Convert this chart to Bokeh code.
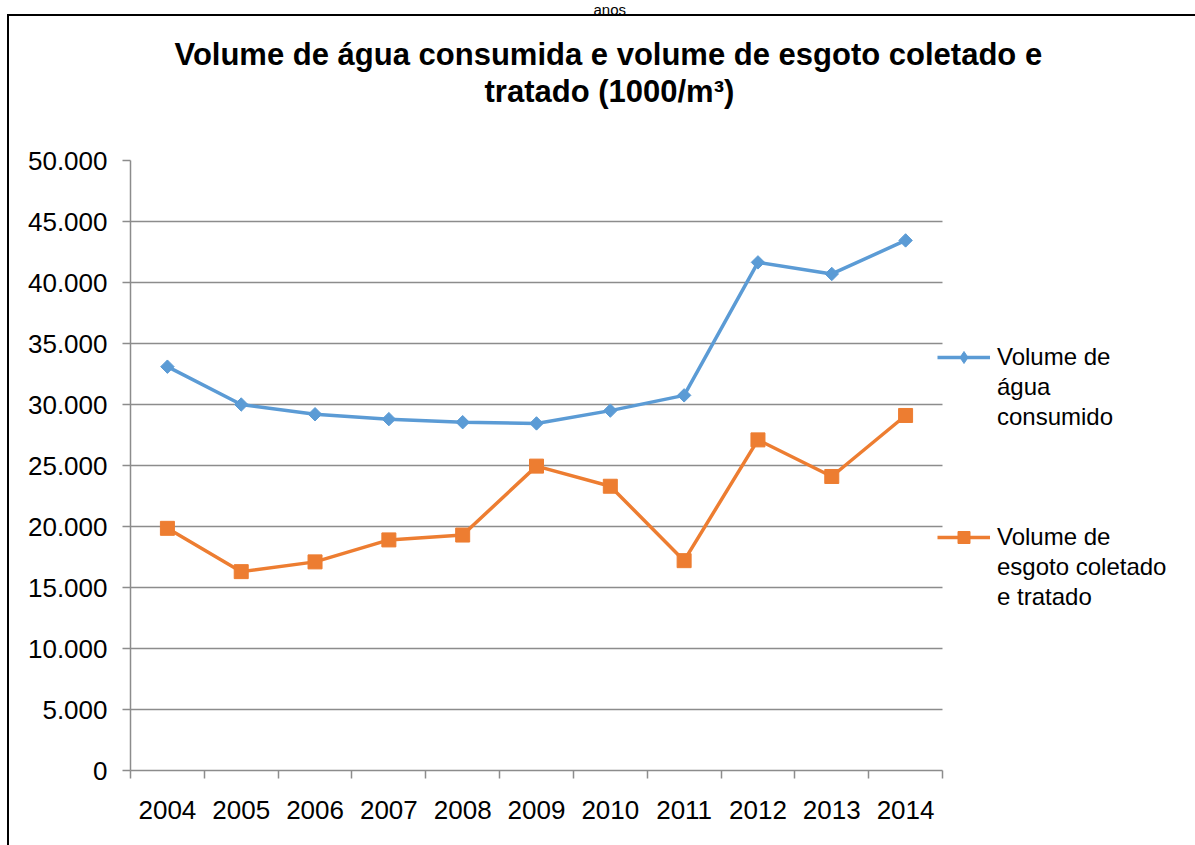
import math
from bokeh.plotting import figure
from bokeh.models import (FixedTicker, Legend, LegendItem, Range1d, Title, BoxAnnotation)
from bokeh.embed import file_html
from bokeh.resources import INLINE

# ---- data ----
years = ["2004", "2005", "2006", "2007", "2008", "2009", "2010", "2011", "2012", "2013", "2014"]
agua = [33100, 30000, 29200, 28800, 28550, 28450, 29500, 30750, 41650, 40700, 43450]
esgoto = [19850, 16300, 17100, 18900, 19300, 24950, 23300, 17200, 27100, 24100, 29100]
y_ticks = [0, 5000, 10000, 15000, 20000, 25000, 30000, 35000, 40000, 45000, 50000]
y_tick_labels = ["0", "5.000", "10.000", "15.000", "20.000", "25.000", "30.000",
                 "35.000", "40.000", "45.000", "50.000"]
title_lines = ["Volume de água consumida e volume de esgoto coletado e", "tratado (1000/m³)"]
legend_agua = ["Volume de", "água", "consumido"]
legend_esgoto = ["Volume de", "esgoto coletado", "e tratado"]
top_text = "anos"

FONT = "Liberation Sans"
BLUE = "#5B9BD5"
ORANGE = "#ED7D31"
GRID = "#8C8C8C"

W, H = 1195, 845
LEFT, TOP, BOTTOM = 130, 159, 75
PLOT_W = 812                      # width of the gridded plot area
n = len(years)
x_end = n * (W - LEFT) / PLOT_W   # frame spans to the right edge (legend lives there)

xs = [i + 0.5 for i in range(n)]

p = figure(width=W, height=H, output_backend="svg", toolbar_location=None,
           x_range=Range1d(0, x_end), y_range=Range1d(0, 50000),
           min_border_left=LEFT, min_border_right=0, min_border_top=TOP, min_border_bottom=BOTTOM,
           background_fill_color="white", border_fill_color=None)
p.outline_line_color = None
# outer black frame (left and top edges) drawn behind the transparent canvas border
p.styles = {
    "background-color": "white",
    "background-image": "linear-gradient(black, black), linear-gradient(black, black)",
    "background-size": "2px calc(100% - 14px), calc(100% - 7px) 2px",
    "background-position": "7px 14px, 7px 14px",
    "background-repeat": "no-repeat",
}

# x axis: labels at category centres, tick marks at boundaries (minor ticks)
p.xaxis.bounds = (0, n)
p.xaxis.ticker = FixedTicker(ticks=xs, minor_ticks=list(range(n + 1)))
p.xaxis.major_label_overrides = {x: y for x, y in zip(xs, years)}
p.xaxis.major_tick_line_color = None
p.xaxis.major_tick_out = 0
p.xaxis.major_tick_in = 0
p.xaxis.minor_tick_line_color = GRID
p.xaxis.minor_tick_out = 8
p.xaxis.minor_tick_in = 0
p.xaxis.minor_tick_line_width = 1.5
p.xaxis.axis_line_color = GRID
p.xaxis.axis_line_width = 1.5
p.xaxis.major_label_standoff = 22
p.xaxis.major_label_text_font = FONT
p.xaxis.major_label_text_font_size = "26px"
p.xaxis.major_label_text_color = "black"

p.yaxis.ticker = FixedTicker(ticks=y_ticks)
p.yaxis.major_label_overrides = {t: l for t, l in zip(y_ticks, y_tick_labels)}
p.yaxis.minor_tick_line_color = None
p.yaxis.major_tick_out = 8
p.yaxis.major_tick_in = 0
p.yaxis.major_tick_line_color = GRID
p.yaxis.major_tick_line_width = 1.5
p.yaxis.axis_line_color = GRID
p.yaxis.axis_line_width = 1.5
p.yaxis.major_label_standoff = 15
p.yaxis.major_label_text_font = FONT
p.yaxis.major_label_text_font_size = "26px"
p.yaxis.major_label_text_color = "black"

p.xgrid.grid_line_color = None
p.ygrid.ticker = FixedTicker(ticks=y_ticks)
p.ygrid.grid_line_color = GRID
p.ygrid.grid_line_width = 1.5

# blank out gridlines to the right of the plot area (legend zone)
p.add_layout(BoxAnnotation(left=n, fill_color="white", fill_alpha=1, line_color=None,
                           level="underlay"))

# series
l1 = p.line(xs, agua, line_color=BLUE, line_width=3.5)
legend_diamond = p.scatter(xs[:1], agua[:1], marker="diamond", size=12,
                           fill_color=BLUE, line_color=BLUE)
m1 = p.scatter(xs, agua, marker="square", angle=math.pi / 4, size=9.5,
               fill_color=BLUE, line_color=BLUE)
l2 = p.line(xs, esgoto, line_color=ORANGE, line_width=3.5)
m2 = p.scatter(xs, esgoto, marker="square", size=14, fill_color=ORANGE, line_color=ORANGE)
blank = p.line([], [], line_alpha=0)

rows = ([(legend_agua[0], [l1, legend_diamond])] + [(t, [blank]) for t in legend_agua[1:]] +
        [(" ", [blank])] * 3 +
        [(legend_esgoto[0], [l2, m2])] + [(t, [blank]) for t in legend_esgoto[1:]])
legend = Legend(items=[LegendItem(label=t, renderers=r) for t, r in rows],
                location=(PLOT_W - 5, 158), border_line_color=None, background_fill_alpha=0,
                padding=0, margin=0, spacing=0,
                glyph_width=53, glyph_height=30, label_height=30, label_standoff=7,
                label_text_font=FONT, label_text_font_size="24px", label_text_color="black")
p.add_layout(legend, "center")

# titles (nearest to the frame first); first one is an invisible spacer
def title(text, size, style, offset, standoff, valign="bottom"):
    return Title(text=text, align="left", offset=offset, standoff=standoff,
                 vertical_align=valign, text_font=FONT, text_font_size=size,
                 text_font_style=style, text_color="black")

p.add_layout(title(" ", "1px", "normal", 0, 63), "above")
p.add_layout(title(title_lines[1], "31px", "bold", 354, -29), "above")
p.add_layout(title(title_lines[0], "31px", "bold", 44, 30), "above")
p.add_layout(title(top_text, "15px", "normal", 463, 0, "top"), "above")

open("out.html", "w").write(file_html(p, INLINE))
